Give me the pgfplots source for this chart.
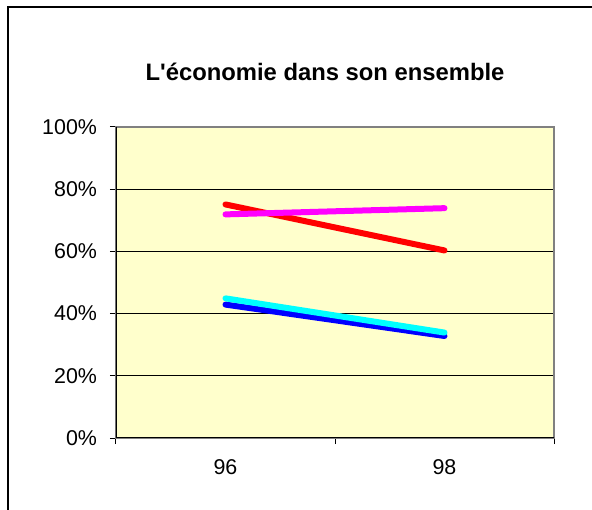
\documentclass[border=0pt]{standalone}
\usepackage{fontspec}
\setmainfont{Liberation Sans}[Ligatures=TeXOff]
\usepackage{pgfplots}
\pgfplotsset{compat=1.18}
\definecolor{plotbg}{HTML}{FFFFCC}
\definecolor{cred}{RGB}{255,0,0}
\definecolor{cmag}{RGB}{255,0,255}
\definecolor{cblue}{RGB}{0,0,255}
\definecolor{ccyan}{RGB}{0,255,255}
\begin{document}
\begin{tikzpicture}
\useasboundingbox (-58bp,-36bp) rectangle (238bp,219bp);
\fill[white] (-58bp,-36bp) rectangle (238bp,219bp);
\draw[black,line width=1bp] (-54bp,-80bp) rectangle (280bp,215.5bp);
\node[font=\fontsize{11.9bp}{14bp}\selectfont\bfseries] at (104.5bp,183bp) {L'économie dans son ensemble};
\begin{axis}[
  at={(0,0)}, anchor=origin,
  scale only axis,
  width=219bp, height=155.5bp,
  xmin=0.5, xmax=2.5,
  ymin=0, ymax=100,
  axis background/.style={fill=plotbg},
  axis line style={draw=gray, line width=0.6bp},
  xtick={1,2},
  xticklabels={96,98},
  major x tick style={draw=none},
  minor xtick={0.5,1.5,2.5},
  ytick={0,20,40,60,80,100},
  yticklabel={\pgfmathprintnumber{\tick}\%},
  /pgf/number format/assume math mode=true,
  tick align=outside,
  xtick pos=bottom, ytick pos=left,
  major tick length=3bp, minor tick length=3bp,
  tick style={black, line width=0.5bp},
  ymajorgrids,
  grid style={black, line width=0.5bp},
  ticklabel style={font=\fontsize{10.7bp}{12bp}\selectfont},
  yticklabel style={anchor=east, xshift=-3bp},
  xticklabel style={anchor=north, yshift=-4.5bp},
  every axis plot/.append style={line width=3bp, line cap=round},
]
\addplot[cred] coordinates {(1,75.1) (2,60.3)};
\addplot[cmag] coordinates {(1,71.9) (2,73.9)};
\addplot[cblue] coordinates {(1,42.9) (2,32.8)};
\addplot[ccyan] coordinates {(1,44.9) (2,33.9)};
\draw[black, line width=0.6bp] (rel axis cs:0,1) -- (rel axis cs:0,0) -- (rel axis cs:1,0);
\end{axis}
\end{tikzpicture}
\end{document}
